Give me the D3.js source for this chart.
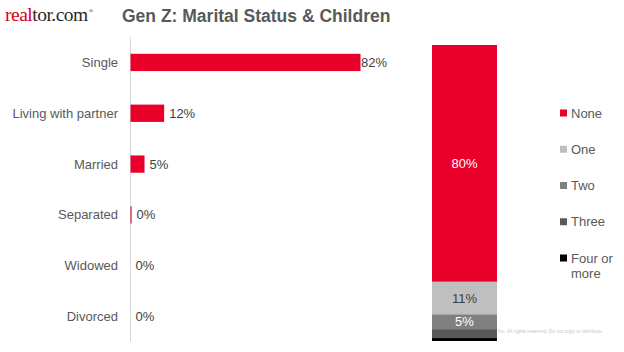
<!DOCTYPE html>
<html><head><meta charset="utf-8">
<script src="https://cdn.jsdelivr.net/npm/d3@7"></script>
<style>
html,body{margin:0;padding:0;background:#fff;}
svg{display:block;font-family:"Liberation Sans",Arial,sans-serif;}
</style></head>
<body>
<svg id="chart" width="624" height="352"></svg>
<script>
const title = "Gen Z: Marital Status & Children";
const statusCategories = ["Single","Living with partner","Married","Separated","Widowed","Divorced"];
const statusValues = [82, 12, 5, 0.4, 0, 0];
const childCategories = ["None","One","Two","Three","Four or more"];
const childValues = [80, 11, 5, 3, 1];
const childColors = ["#e8002a","#bfbfbf","#808080","#595959","#000000"];
const childLabelColors = ["#ffffff","#404040","#ffffff",null,null];

const svg = d3.select("#chart");

// Logo
const logo = svg.append("text").attr("x",5).attr("y",21)
  .attr("font-family","'Liberation Serif','Times New Roman',serif").attr("font-size",19.5)
  .attr("letter-spacing",-0.5);
logo.append("tspan").attr("fill","#d6001c").text("real");
logo.append("tspan").attr("fill","#2b2b2b").text("tor.com");
logo.append("tspan").attr("fill","#2b2b2b").attr("font-size",6).attr("dy",-8).attr("dx",1).text("®");

// Title
svg.append("text").attr("x",122).attr("y",22).attr("font-size",17.5).attr("font-weight","bold")
  .attr("fill","#595959").text(title);

// Left horizontal bar chart
const x = d3.scaleLinear().domain([0,100]).range([130.5,411]);
const y = d3.scaleBand().domain(statusCategories).range([37,342]).paddingInner(0.66).paddingOuter(0.33);

svg.append("line").attr("x1",x(0)).attr("x2",x(0)).attr("y1",37).attr("y2",342)
  .attr("stroke","#d9d9d9").attr("stroke-width",1);

svg.append("g").selectAll("rect").data(statusValues).join("rect")
  .attr("x",x(0)).attr("y",(d,i)=>y(statusCategories[i]))
  .attr("width",d=>x(d)-x(0)).attr("height",y.bandwidth())
  .attr("fill","#e8002a");

svg.append("g").selectAll("text").data(statusCategories).join("text")
  .attr("x",118).attr("y",d=>y(d)+y.bandwidth()/2).attr("dy","0.35em")
  .attr("text-anchor","end").attr("font-size",13).attr("fill","#595959").text(d=>d);

const fmt = d=>Math.round(d)+"%";
const plotRight = 387;
svg.append("g").selectAll("text").data(statusValues).join("text")
  .attr("y",(d,i)=>y(statusCategories[i])+y.bandwidth()/2).attr("dy","0.35em")
  .attr("font-size",13).attr("fill","#404040").text(fmt)
  .attr("x",function(d){const w=this.getComputedTextLength();return Math.min(x(d)+5, plotRight-w);});

// Right stacked bar (None at top)
const ys = d3.scaleLinear().domain([0,100]).range([45,341]);
const cum = d3.cumsum(childValues);
const segs = childValues.map((v,i)=>({v, y0:cum[i]-v, y1:cum[i], c:childColors[i], lc:childLabelColors[i], name:childCategories[i]}));
const bx0 = 432, bx1 = 497;
svg.append("g").selectAll("rect").data(segs).join("rect")
  .attr("x",bx0).attr("width",bx1-bx0)
  .attr("y",d=>ys(d.y0)).attr("height",d=>ys(d.y1)-ys(d.y0)).attr("fill",d=>d.c);
svg.append("g").selectAll("text").data(segs.filter(d=>d.lc)).join("text")
  .attr("x",(bx0+bx1)/2).attr("y",d=>(ys(d.y0)+ys(d.y1))/2).attr("dy","0.35em")
  .attr("text-anchor","middle").attr("font-size",13).attr("fill",d=>d.lc).text(d=>fmt(d.v));

// copyright fragment (the visible part beside the bar)
svg.append("text").attr("x",bx1+1).attr("y",333).attr("font-size",4.9).attr("fill","#c8c8c8")
  .text("Inc. All rights reserved. Do not copy or distribute.");

// Legend
const ly = d3.scalePoint().domain(childCategories).range([113,258]);
const lg = svg.append("g").selectAll("g").data(segs).join("g")
  .attr("transform",d=>`translate(560,${ly(d.name)})`);
lg.append("rect").attr("x",0).attr("y",-3.5).attr("width",7).attr("height",7).attr("fill",d=>d.c);
lg.each(function(d){
  const t = d3.select(this).append("text").attr("x",11).attr("y",0).attr("dy","0.35em")
    .attr("font-size",13).attr("fill","#595959");
  if(d.name==="Four or more"){
    t.append("tspan").attr("x",11).text("Four or");
    t.append("tspan").attr("x",11).attr("dy","1.15em").text("more");
  } else t.text(d.name);
});
</script>
</body></html>
